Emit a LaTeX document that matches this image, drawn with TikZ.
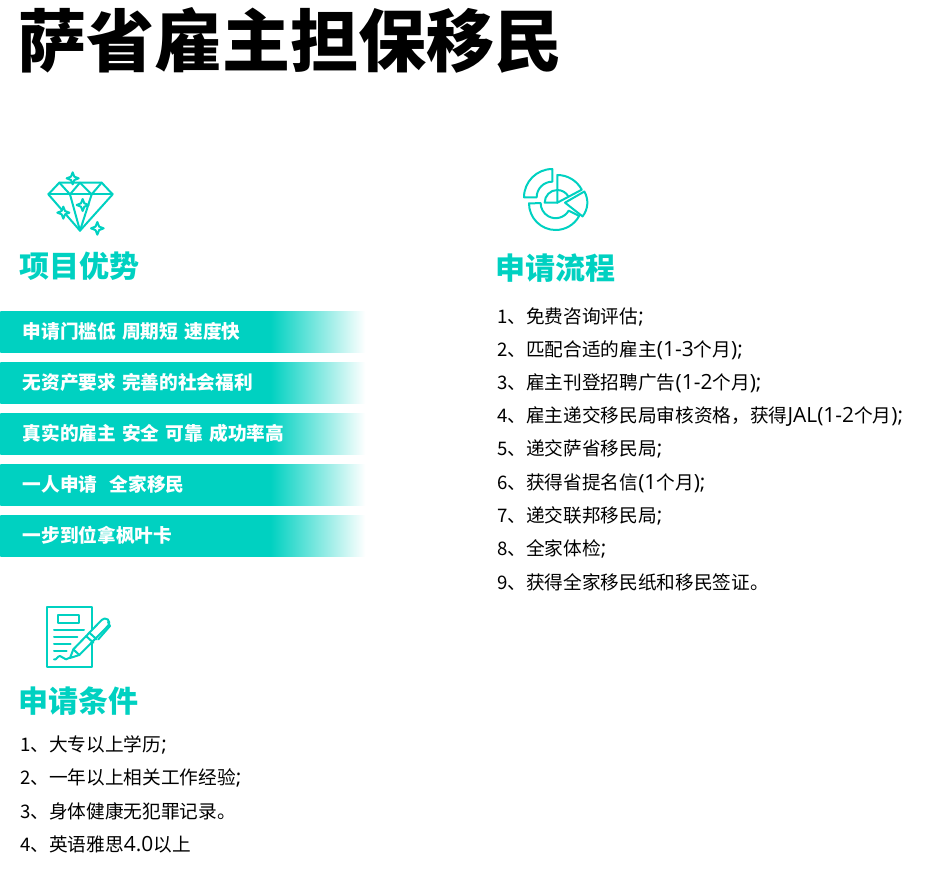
\documentclass[tikz,border=0pt]{standalone}
\usepackage{fontspec}
\usepackage{xcolor}
\setmainfont[WordSpace=1.25]{Noto Sans CJK SC}
\newfontfamily\latinfont[Scale=1.12]{Open Sans}
\newcommand{\lat}[1]{{\latinfont #1}}
\definecolor{bandteal}{HTML}{00D1C1}
\pgfdeclarehorizontalshading{bandfade}{100bp}{color(0bp)=(bandteal); color(25bp)=(bandteal); color(62bp)=(bandteal); color(75bp)=(white); color(100bp)=(white)}
\newcommand{\sparkle}[3]{\draw[fill=white] (#1,#2-#3) -- (#1+0.28*#3,#2-0.28*#3) -- (#1+#3,#2) -- (#1+0.28*#3,#2+0.28*#3) -- (#1,#2+#3) -- (#1-0.28*#3,#2+0.28*#3) -- (#1-#3,#2) -- (#1-0.28*#3,#2-0.28*#3) -- cycle;}

\begin{document}
\begin{tikzpicture}[x=0.75pt, y=-0.75pt, every node/.style={anchor=west, inner sep=0pt},
	title/.style={font=\fontsize{51pt}{51pt}\selectfont\bfseries},
	heading/.style={text=bandteal, font=\fontsize{22.5pt}{24pt}\selectfont\bfseries},
	item/.style={yshift=-1pt, text=black, font=\fontsize{14pt}{16pt}\selectfont},
	band/.style={shading=bandfade, minimum width=273.75pt, minimum height=30.75pt, inner xsep=16.5pt, text width=240pt, align=left, text=white, font=\fontsize{14pt}{16pt}\selectfont\bfseries},
	icon/.style={draw=bandteal, line width=1.5pt, line join=round, line cap=round, x=0.25pt, y=-0.25pt}]
	\useasboundingbox (0,0) rectangle (940,896);
	\node[title] (title) at (18,40) {萨省雇主担保移民};

	% left column
	\node[heading] (advantage) at (19,266) {项目优势};
	\node[band] (bandA) at (0,331.5) {申请门槛低 周期短 速度快};
	\node[band] (bandB) at (0,382.5) {无资产要求 完善的社会福利};
	\node[band] (bandC) at (0,433.5) {真实的雇主 安全 可靠 成功率高};
	\node[band] (bandD) at (0,484.5) {一人申请\ \ 全家移民};
	\node[band] (bandE) at (0,535.5) {一步到位拿枫叶卡};

	\node[heading] (condition) at (18,701) {申请条件};
	\node[item] (condA) at (20,744) {1、大专以上学历\lat{;}};
	\node[item] (condB) at (20,777) {2、一年以上相关工作经验\lat{;}};
	\node[item] (condC) at (20,810) {3、身体健康无犯罪记录。};
	\node[item] (condD) at (20,843) {4、英语雅思\lat{4.0}以上};

	% right column
	\node[heading] (process) at (495,268) {申请流程};
	\node[item] (stepA) at (497,316) {1、免费咨询评估\lat{;}};
	\node[item] (stepB) at (497,349) {2、匹配合适的雇主\lat{(1-3}个月\lat{);}};
	\node[item] (stepC) at (497,382) {3、雇主刊登招聘广告\lat{(1-2}个月\lat{);}};
	\node[item] (stepD) at (497,415) {4、雇主递交移民局审核资格，获得\lat{JAL(1-2}个月\lat{);}};
	\node[item] (stepE) at (497,448) {5、递交萨省移民局\lat{;}};
	\node[item] (stepF) at (497,482) {6、获得省提名信\lat{(1}个月\lat{);}};
	\node[item] (stepG) at (497,515) {7、递交联邦移民局\lat{;}};
	\node[item] (stepH) at (497,548) {8、全家体检\lat{;}};
	\node[item] (stepI) at (497,581) {9、获得全家移民纸和移民签证。};

	% diamond icon
	\begin{scope}[shift={(30,160)}, icon, every path/.append style={draw=bandteal}]
		\draw (88,68) -- (215,68) -- (248,103) -- (150,212) -- (55,103) -- cycle;
		\draw (55,103) -- (248,103);
		\draw (88,68) -- (120,103) -- (150,68) -- (185,103) -- (215,68);
		\draw (120,103) -- (150,212) -- (185,103);
		\foreach \sx/\sy/\sr in {128/55/18, 158/135/18, 100/158/18, 202/205/19} {
			\sparkle{\sx}{\sy}{\sr}
		}
	\end{scope}

	% chart icon
	\begin{scope}[shift={(510,160)}, icon, every path/.append style={draw=bandteal}]
		\draw (127,30) -- (127,65) arc[start angle=270, end angle=180, radius=47] -- (42,112) arc[start angle=180, end angle=270, radius=85] -- cycle;
		\draw (57,130) arc[start angle=180, end angle=28, radius=80] -- (176,152) arc[start angle=30, end angle=180, radius=45] -- cycle;
		\draw (142,45) arc[start angle=270, end angle=332, radius=83] -- (142,128) -- cycle;
		\draw (142,128) -- (104,128) arc[start angle=180, end angle=332, radius=38];
		\draw (165,128) -- (223,94.5) arc[start angle=-30, end angle=38, radius=67] -- cycle;
	\end{scope}

	% pen icon
	\begin{scope}[shift={(30,600)}, icon, every path/.append style={draw=bandteal}]
		\draw (50,20) rectangle (187,200);
		\draw (85,45) rectangle (148,68);
		\draw (72,90) -- (162,90);
		\draw (72,110) -- (142,110);
		\draw (72,132) -- (122,132);
		\draw (72,153) -- (110,153);
		\draw (72,178) to[out=-30, in=180] (90,168) to[out=0, in=180] (108,178) -- (122,172);
		\draw[fill=white] (120,174) -- (130,148) -- (215,60) arc[start angle=220, end angle=400, radius=13] -- (148,165) -- cycle;
		\draw (130,148) -- (148,165);
		\draw (168,108) -- (190,128);
		\draw (178,98) -- (200,118);
		\draw (205,118) -- (240,78) -- (234,66);
	\end{scope}
\end{tikzpicture}
\end{document}
